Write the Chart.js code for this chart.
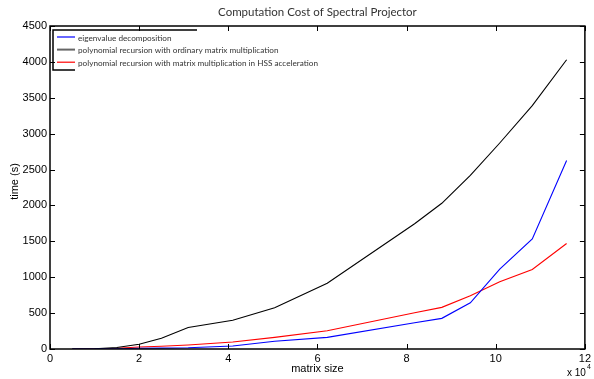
<!DOCTYPE html>
<html>
<head>
<meta charset="utf-8">
<script src="https://cdn.jsdelivr.net/npm/chart.js@4.4.1/dist/chart.umd.min.js"></script>
<style>
  html, body { margin: 0; padding: 0; background: #fff; }
  #wrap { width: 594px; height: 379px; }
</style>
</head>
<body>
<div id="wrap"><canvas id="c" width="594" height="379"></canvas></div>
<script>
// ---------- data ----------
const MATRIX_SIZE = [5000, 10000, 15000, 20000, 25000, 31000, 41000, 50400, 62200, 81800, 87900, 94300, 100900, 108200, 115900];
const EIG_TIME    = [0, 1, 4, 10, 12, 18, 42, 107, 162, 366, 427, 644, 1112, 1533, 2627];
const POLY_ORD    = [0, 3, 20, 65, 150, 300, 400, 575, 915, 1745, 2030, 2420, 2870, 3390, 4030];
const POLY_HSS    = [0, 3, 10, 28, 38, 56, 97, 162, 255, 505, 580, 741, 936, 1108, 1469];

const X_TICKS = [0, 20000, 40000, 60000, 80000, 100000, 120000];
const Y_TICKS = [0, 500, 1000, 1500, 2000, 2500, 3000, 3500, 4000, 4500];

const TITLE = 'Computation Cost of Spectral Projector';
const X_LABEL = 'matrix size';
const Y_LABEL = 'time (s)';

const SERIES = [
  { label: 'eigenvalue decomposition', data: EIG_TIME, color: '#0000ff' },
  { label: 'polynomial recursion with ordinary matrix multiplication', data: POLY_ORD, color: '#000000' },
  { label: 'polynomial recursion with matrix multiplication in HSS acceleration', data: POLY_HSS, color: '#ff0000' },
];

const TICK_FONT = { family: 'Liberation Sans, Arial, sans-serif', size: 11 };
const SOFT_FONT = 'Lato, "Open Sans", sans-serif';

// ---------- matlab-ish frame, inward ticks, legend, titles ----------
const matlabDecor = {
  id: 'matlabDecor',
  afterDatasetsDraw(chart) {
    const { ctx, chartArea: a, scales: { x, y } } = chart;
    ctx.save();

    // box
    ctx.strokeStyle = '#000';
    ctx.lineWidth = 1.5;
    ctx.strokeRect(a.left, a.top, a.right - a.left, a.bottom - a.top);

    // inward ticks on all four sides
    const TL = 5;
    ctx.lineWidth = 1;
    ctx.beginPath();
    X_TICKS.forEach(v => {
      const px = Math.round(x.getPixelForValue(v)) + 0.5;
      ctx.moveTo(px, a.bottom); ctx.lineTo(px, a.bottom - TL);
      ctx.moveTo(px, a.top);    ctx.lineTo(px, a.top + TL);
    });
    Y_TICKS.forEach(v => {
      const py = Math.round(y.getPixelForValue(v)) + 0.5;
      ctx.moveTo(a.left, py);  ctx.lineTo(a.left + TL, py);
      ctx.moveTo(a.right, py); ctx.lineTo(a.right - TL, py);
    });
    ctx.stroke();

    // legend (partially boxed, like the original export)
    ctx.lineWidth = 1.5;
    ctx.beginPath();
    ctx.moveTo(197, 30); ctx.lineTo(53, 30); ctx.lineTo(53, 70); ctx.lineTo(75, 70);
    ctx.stroke();
    ctx.font = `8.2px ${SOFT_FONT}`;
    ctx.textBaseline = 'middle';
    ctx.textAlign = 'left';
    chart.data.datasets.forEach((ds, i) => {
      const ly = 37 + 12.6 * i;
      ctx.strokeStyle = ds.borderColor === '#000000' ? '#666' : ds.borderColor;
      ctx.lineWidth = ds.borderColor === '#000000' ? 2 : 1.2;
      ctx.beginPath(); ctx.moveTo(57, ly); ctx.lineTo(75, ly); ctx.stroke();
      ctx.fillStyle = '#333';
      ctx.fillText(ds.label, 78, ly + 1);
    });

    // chart title
    ctx.fillStyle = '#333';
    ctx.textAlign = 'center';
    ctx.font = `11.5px ${SOFT_FONT}`;
    ctx.fillText(TITLE, (a.left + a.right) / 2, 12);

    // y title
    ctx.fillStyle = '#000';
    ctx.font = `11px ${TICK_FONT.family}`;
    ctx.save();
    ctx.translate(15, (a.top + a.bottom) / 2 - 6);
    ctx.rotate(-Math.PI / 2);
    ctx.fillText(Y_LABEL, 0, 0);
    ctx.restore();

    // exponent under the x axis
    ctx.textAlign = 'left';
    ctx.font = `10px ${TICK_FONT.family}`;
    ctx.fillText('x 10', 567, 373);
    ctx.font = `7px ${TICK_FONT.family}`;
    ctx.fillText('4', 587, 367);

    ctx.restore();
  }
};

new Chart(document.getElementById('c'), {
  type: 'line',
  data: {
    datasets: SERIES.map(s => ({
      label: s.label,
      data: MATRIX_SIZE.map((v, i) => ({ x: v, y: s.data[i] })),
      borderColor: s.color,
      backgroundColor: s.color,
      borderWidth: 1.1,
      pointRadius: 0,
      tension: 0,
      fill: false,
    })),
  },
  options: {
    responsive: false,
    animation: false,
    devicePixelRatio: 1,
    layout: { padding: { left: 0, right: 6, top: 26, bottom: 0 } },
    plugins: { legend: { display: false }, title: { display: false }, tooltip: { enabled: false } },
    scales: {
      x: {
        type: 'linear',
        min: 0, max: 120000,
        afterFit: s => { s.height = 30; },
        afterBuildTicks: s => { s.ticks = X_TICKS.map(v => ({ value: v })); },
        grid: { display: false, drawTicks: false },
        border: { display: false },
        ticks: { font: TICK_FONT, color: '#000', padding: 3, maxRotation: 0, autoSkip: false, callback: v => String(v / 10000) },
        title: { display: true, text: X_LABEL, font: TICK_FONT, color: '#000', padding: { top: 0, bottom: 3 } },
      },
      y: {
        min: 0, max: 4500,
        afterFit: s => { s.width = 50; },
        afterBuildTicks: s => { s.ticks = Y_TICKS.map(v => ({ value: v })); },
        grid: { display: false, drawTicks: false },
        border: { display: false },
        ticks: { font: TICK_FONT, color: '#000', padding: 3, callback: v => String(v) },
      },
    },
  },
  plugins: [matlabDecor],
});
</script>
</body>
</html>
